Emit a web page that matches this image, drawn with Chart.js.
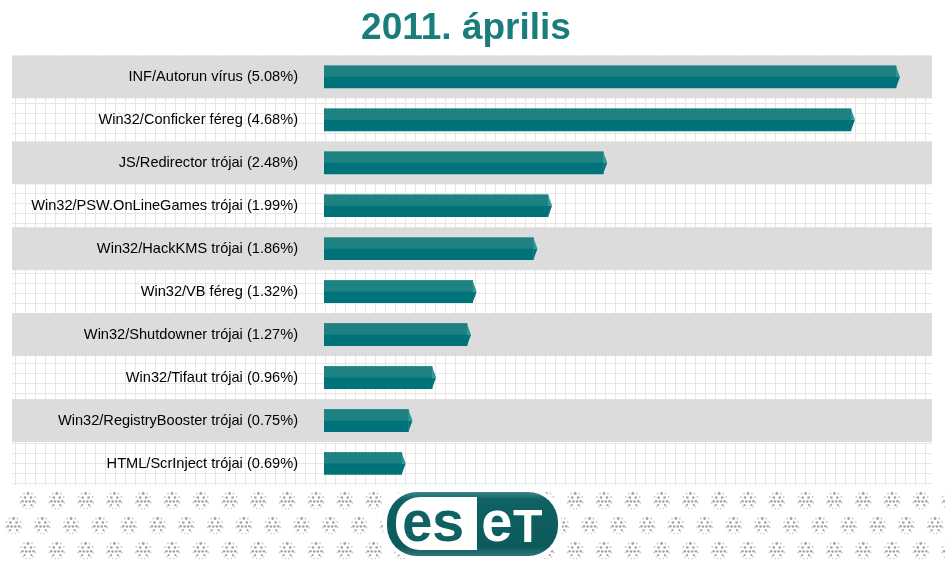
<!DOCTYPE html>
<html>
<head>
<meta charset="utf-8">
<script src="https://cdn.jsdelivr.net/npm/chart.js@4.4.0/dist/chart.umd.min.js"></script>
<style>
  html, body { margin: 0; padding: 0; background: #fff; }
  #wrap { width: 945px; height: 575px; }
</style>
</head>
<body>
<div id="wrap"><canvas id="chart" width="945" height="575"></canvas></div>
<script>
// Chart data
const chartTitle = '2011. április';
const threatLabels = [
    'INF/Autorun vírus (5.08%)',
    'Win32/Conficker féreg (4.68%)',
    'JS/Redirector trójai (2.48%)',
    'Win32/PSW.OnLineGames trójai (1.99%)',
    'Win32/HackKMS trójai (1.86%)',
    'Win32/VB féreg (1.32%)',
    'Win32/Shutdowner trójai (1.27%)',
    'Win32/Tifaut trójai (0.96%)',
    'Win32/RegistryBooster trójai (0.75%)',
    'HTML/ScrInject trójai (0.69%)'
];
const threatShares = [5.08, 4.68, 2.48, 1.99, 1.86, 1.32, 1.27, 0.96, 0.75, 0.69];

const FONT = '"Liberation Sans", Arial, sans-serif';
const TEAL_DARK = '#00737a';
const TEAL_LIGHT = '#1f8282';
const TEAL_TIP = '#2c9999';

// Background: grid paper, grey bands, dotted balls
const backgroundPlugin = {
    id: 'background',
    beforeDraw(chart) {
        const ctx = chart.ctx;
        const area = chart.chartArea;
        const yScale = chart.scales.y;
        const left = 12, right = 932;

        ctx.save();
        ctx.fillStyle = '#ffffff';
        ctx.fillRect(0, 0, chart.width, chart.height);

        // grid lines
        ctx.strokeStyle = '#e6e6e6';
        ctx.lineWidth = 1;
        ctx.beginPath();
        for (let x = 15; x <= right; x += 10) {
            ctx.moveTo(x + 0.5, area.top);
            ctx.lineTo(x + 0.5, area.bottom);
        }
        for (let y = 63; y <= area.bottom; y += 10) {
            ctx.moveTo(left, y + 0.5);
            ctx.lineTo(right, y + 0.5);
        }
        ctx.stroke();

        // alternating grey bands
        const step = (area.bottom - area.top) / threatLabels.length;
        ctx.fillStyle = '#dcdcdc';
        threatLabels.forEach((label, i) => {
            if (i % 2 === 0) {
                const cy = yScale.getPixelForTick(i);
                ctx.fillRect(left, cy - step / 2, right - left, step);
            }
        });

        // dotted balls under the chart
        const rows = [500, 525, 550];
        rows.forEach((cy, r) => {
            const start = r === 1 ? 13.5 : 28;
            for (let cx = start; cx < chart.width + 10; cx += 28.8) {
                drawBall(ctx, cx, cy);
            }
        });
        ctx.restore();
    }
};

function drawBall(ctx, cx, cy) {
    const faint = [[-4, -6.5, 0.9], [4, -6.5, 0.9], [-7, -3, 0.9], [7, -3, 0.9],
                   [-7.5, 2.5, 0.9], [7.5, 2.5, 0.9], [-5, 7, 0.8], [5, 7, 0.8],
                   [-1.6, 8.5, 0.8], [1.6, 8.5, 0.8]];
    const dark = [[0, -6.5, 1.4], [-3, -2.5, 1.3], [3, -2.5, 1.3],
                  [-5.5, 1.2, 1.2], [-1.8, 1.5, 1.3], [1.8, 1.5, 1.3], [5.5, 1.2, 1.2],
                  [-3.5, 5.2, 1.1], [3.5, 5.2, 1.1]];
    ctx.fillStyle = '#c9c9c9';
    faint.forEach(d => {
        ctx.beginPath();
        ctx.arc(cx + d[0], cy + d[1], d[2], 0, Math.PI * 2);
        ctx.fill();
    });
    ctx.fillStyle = '#a3a3a3';
    dark.forEach(d => {
        ctx.beginPath();
        ctx.arc(cx + d[0], cy + d[1], d[2], 0, Math.PI * 2);
        ctx.fill();
    });
}

// Two-tone bars with a pointed end
const barStylePlugin = {
    id: 'barStyle',
    afterDatasetsDraw(chart) {
        const ctx = chart.ctx;
        const meta = chart.getDatasetMeta(0);
        ctx.save();
        meta.data.forEach(bar => {
            const p = bar.getProps(['x', 'y', 'base', 'height'], true);
            const top = p.y - p.height / 2;
            const bottom = p.y + p.height / 2;
            ctx.fillStyle = TEAL_LIGHT;
            ctx.fillRect(p.base, top, p.x - p.base, p.height / 2);
            ctx.fillStyle = TEAL_TIP;
            ctx.beginPath();
            ctx.moveTo(p.x, top);
            ctx.lineTo(p.x + 4, p.y);
            ctx.lineTo(p.x, p.y);
            ctx.closePath();
            ctx.fill();
            ctx.fillStyle = TEAL_DARK;
            ctx.beginPath();
            ctx.moveTo(p.x, p.y);
            ctx.lineTo(p.x + 4, p.y);
            ctx.lineTo(p.x, bottom);
            ctx.closePath();
            ctx.fill();
        });
        ctx.restore();
    }
};

// ESET logo
const logoPlugin = {
    id: 'logo',
    afterDraw(chart) {
        const ctx = chart.ctx;
        ctx.save();
        // white halo
        ctx.fillStyle = '#ffffff';
        ctx.beginPath();
        ctx.roundRect(383, 488, 179, 72, 34);
        ctx.fill();

        const grad = ctx.createLinearGradient(0, 492, 0, 556);
        grad.addColorStop(0, '#3d8788');
        grad.addColorStop(0.12, '#0f6163');
        grad.addColorStop(0.85, '#0c5a5c');
        grad.addColorStop(1, '#2f7576');
        ctx.fillStyle = grad;
        ctx.beginPath();
        ctx.roundRect(387, 492, 171, 64, 30);
        ctx.fill();

        ctx.fillStyle = '#ffffff';
        ctx.beginPath();
        ctx.roundRect(396, 497, 81, 53, [24, 0, 0, 24]);
        ctx.fill();

        // each glyph squeezed into its ink box
        const letter = (ch, x, top, w, h, color) => {
            ctx.font = 'bold 60px ' + FONT;
            const m = ctx.measureText(ch);
            const inkW = m.actualBoundingBoxLeft + m.actualBoundingBoxRight;
            const inkH = m.actualBoundingBoxAscent + m.actualBoundingBoxDescent;
            ctx.save();
            ctx.translate(x, top);
            ctx.scale(w / inkW, h / inkH);
            ctx.fillStyle = color;
            ctx.textAlign = 'left';
            ctx.textBaseline = 'alphabetic';
            ctx.fillText(ch, m.actualBoundingBoxLeft, m.actualBoundingBoxAscent);
            ctx.restore();
        };
        letter('e', 404, 510, 27, 32, '#0f6163');
        letter('s', 434, 510, 28, 32, '#0f6163');
        letter('e', 483, 510, 28, 32, '#ffffff');
        letter('T', 513, 511, 29, 31, '#ffffff');
        ctx.restore();
    }
};

new Chart(document.getElementById('chart'), {
    type: 'bar',
    data: {
        labels: threatLabels,
        datasets: [{
            data: threatShares,
            backgroundColor: TEAL_DARK,
            borderWidth: 0,
            barThickness: 22
        }]
    },
    options: {
        indexAxis: 'y',
        responsive: false,
        animation: false,
        layout: {
            padding: { top: 0, right: 13, bottom: 90, left: 0 }
        },
        plugins: {
            legend: { display: false },
            tooltip: { enabled: false },
            title: {
                display: true,
                text: chartTitle,
                color: '#1b7c7c',
                font: { family: FONT, size: 37, weight: 'bold' },
                padding: { top: 7, bottom: 4 }
            }
        },
        scales: {
            x: {
                display: false,
                min: 0,
                max: 5.4
            },
            y: {
                grid: { display: false, drawTicks: false },
                border: { display: false },
                ticks: {
                    color: '#000000',
                    padding: 26,
                    font: { family: FONT, size: 14.6 }
                },
                afterFit(scale) {
                    scale.width = 324;
                }
            }
        }
    },
    plugins: [backgroundPlugin, barStylePlugin, logoPlugin]
});
</script>
</body>
</html>
